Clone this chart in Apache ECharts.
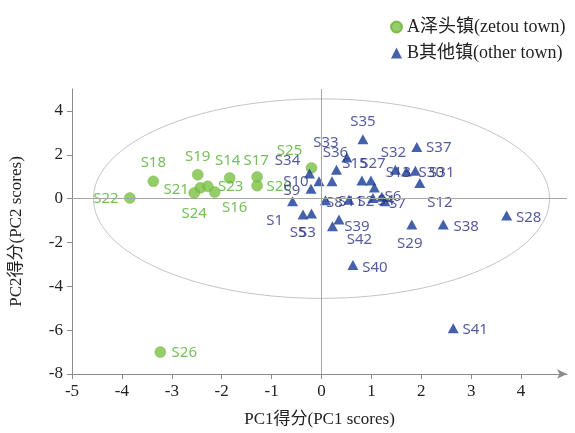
<!DOCTYPE html>
<html>
<head>
<meta charset="utf-8">
<script src="https://cdn.jsdelivr.net/npm/echarts@6/dist/echarts.min.js"></script>
<style>
  html, body { margin: 0; padding: 0; background: #ffffff; }
  #chart { width: 575px; height: 433px; }
</style>
</head>
<body>
<div id="chart"></div>
<script>
// PCA scores of the sampled sites, split by town group.
const groupNames = ['A泽头镇(zetou town)', 'B其他镇(other town)'];

// Group A: Zetou town samples
const townANames = ['S14', 'S16', 'S17', 'S18', 'S19', 'S20', 'S21', 'S22', 'S23', 'S24', 'S25', 'S26'];
const townAPc1   = [-1.84, -2.14, -1.29, -3.37, -2.48, -1.29, -2.43, -3.84, -2.28, -2.55, -0.20, -3.23];
const townAPc2   = [ 0.94,  0.30,  0.99,  0.79,  1.09,  0.59,  0.49,  0.03,  0.56,  0.26,  1.40, -7.00];

// Group B: samples from other towns
const townBNames = ['S1', 'S2', 'S3', 'S4', 'S5', 'S6', 'S7', 'S8', 'S9', 'S10', 'S11', 'S12', 'S13', 'S15',
                    'S27', 'S28', 'S29', 'S30', 'S31', 'S32', 'S33', 'S34', 'S35', 'S36', 'S37', 'S38', 'S39',
                    'S40', 'S41', 'S42'];
const townBPc1   = [-0.58, 1.03, -0.20, 1.27, -0.37, 1.21, 1.06, 0.08, -0.21, -0.05, 0.55, 0.21, 1.70, 0.81,
                     0.99, 3.71, 1.81, 1.88, 1.97, 1.48, 0.51, -0.24, 0.83, 0.30, 1.91, 2.44, 0.35,
                     0.63, 2.64, 0.22];
const townBPc2   = [-0.12, 0.03, -0.68, -0.12, -0.73, 0.08, 0.51, -0.08, 0.45, 0.79, -0.05, 0.79, 1.24, 0.83,
                     0.83, -0.77, -1.18, 1.27, 0.71, 1.32, 1.88, 1.14, 2.71, 1.32, 2.35, -1.18, -0.95,
                    -3.03, -5.91, -1.26];

// Axis ticks
const pc1Ticks = [-5, -4, -3, -2, -1, 0, 1, 2, 3, 4];
const pc2Ticks = [-8, -6, -4, -2, 0, 2, 4];

// Confidence ellipse (centre and semi-axes in score units)
const ellipseCenter = [0.0, 0.0];
const ellipseRadii = [4.57, 4.55];

// Label placement (pixel offsets from each marker, keeps labels readable)
const labelOffsetA = {
  S14: [-2, -17], S16: [20, 16], S17: [-1, -16], S18: [0, -19], S19: [0, -18], S20: [22, 1],
  S21: [-24, 2], S22: [-24, 1], S23: [23, 0], S24: [0, 21], S25: [-22, -17], S26: [24, 1]
};
const labelOffsetB = {
  S1: [-18, 19], S2: [-7, 4], S3: [-4, 19], S4: [1, -1], S5: [-5, 18], S6: [11, 0], S7: [23, 16],
  S8: [9, 2], S9: [-19, 2], S10: [-23, 0], S11: [2, 2], S12: [108, 21], S13: [-8, 1], S15: [-7, -17],
  S27: [2, -17], S28: [22, 2], S29: [-2, 19], S30: [16, 2], S31: [22, -10], S32: [-2, -17],
  S33: [-21, -15], S34: [-22, -13], S35: [0, -17], S36: [-1, -17], S37: [22, 1], S38: [23, 2],
  S39: [18, 7], S40: [22, 3], S41: [22, 2], S42: [27, 13]
};

const GREEN = '#7bc144';
const GREEN_TEXT = '#52b031';
const BLUE = '#173a96';
const BLUE_TEXT = '#2a3285';
const SERIF = '"Liberation Serif", "Noto Sans CJK SC", serif';
const SANS = '"Noto Sans", sans-serif';

function buildPoints(names, xs, ys, offsets) {
  return names.map((n, i) => ({
    name: n,
    value: [xs[i], ys[i]],
    label: { offset: offsets[n] || [0, 0] }
  }));
}

const chart = echarts.init(document.getElementById('chart'), null, { renderer: 'canvas' });

const axisCommon = {
  type: 'value',
  nameLocation: 'middle',
  nameTextStyle: { fontFamily: SERIF, fontSize: 17, color: '#222' },
  axisLine: { show: true, onZero: false, lineStyle: { color: '#8c8c8c', width: 1 } },
  axisTick: { show: true, inside: false, length: 5, lineStyle: { color: '#8c8c8c' } },
  axisLabel: { fontFamily: SERIF, fontSize: 17, color: '#222' },
  splitLine: { show: false }
};

chart.setOption({
  animation: false,
  backgroundColor: '#ffffff',
  grid: { left: 72, right: 8, top: 89, bottom: 58, containLabel: false },
  legend: {
    orient: 'vertical',
    left: 385,
    top: 13,
    itemWidth: 11,
    itemHeight: 11,
    itemGap: 8,
    textStyle: { fontFamily: SERIF, fontSize: 18, color: '#222' },
    data: [
      { name: groupNames[0], icon: 'circle' },
      { name: groupNames[1], icon: 'triangle' }
    ]
  },
  xAxis: Object.assign({}, axisCommon, {
    min: -5, max: 4.92, interval: 1,
    name: 'PC1得分(PC1 scores)',
    nameGap: 37,
    axisLine: Object.assign({}, axisCommon.axisLine, { symbol: ['none', 'arrow'], symbolSize: [7, 10] }),
    axisTick: Object.assign({}, axisCommon.axisTick, { customValues: pc1Ticks }),
    axisLabel: Object.assign({}, axisCommon.axisLabel, { customValues: pc1Ticks, margin: 9 })
  }),
  yAxis: Object.assign({}, axisCommon, {
    min: -8, max: 5, interval: 2,
    name: 'PC2得分(PC2 scores)',
    nameGap: 47,
    axisTick: Object.assign({}, axisCommon.axisTick, { customValues: pc2Ticks }),
    axisLabel: Object.assign({}, axisCommon.axisLabel, { customValues: pc2Ticks, margin: 9 })
  }),
  series: [
    {
      // confidence ellipse outline
      type: 'custom',
      silent: true,
      z: 1,
      data: [[ellipseCenter[0], ellipseCenter[1]]],
      renderItem: function (params, api) {
        const pts = [];
        const steps = 180;
        for (let k = 0; k <= steps; k++) {
          const t = (k / steps) * Math.PI * 2;
          pts.push(api.coord([
            ellipseCenter[0] + ellipseRadii[0] * Math.cos(t),
            ellipseCenter[1] + ellipseRadii[1] * Math.sin(t)
          ]));
        }
        return {
          type: 'polyline',
          shape: { points: pts },
          style: { fill: null, stroke: '#c4c4c8', lineWidth: 1 }
        };
      }
    },
    {
      name: groupNames[0],
      type: 'scatter',
      symbol: 'circle',
      symbolSize: 11,
      z: 3,
      itemStyle: { color: GREEN, borderColor: '#6bb236', borderWidth: 0.5 },
      label: {
        show: true, formatter: '{b}', position: 'inside',
        align: 'center', verticalAlign: 'middle',
        color: GREEN_TEXT, fontFamily: SANS, fontSize: 15
      },
      markLine: {
        silent: true,
        symbol: ['none', 'none'],
        label: { show: false },
        lineStyle: { color: '#a6a6a6', width: 1, type: 'solid' },
        data: [{ xAxis: 0 }, { yAxis: 0 }]
      },
      data: buildPoints(townANames, townAPc1, townAPc2, labelOffsetA)
    },
    {
      name: groupNames[1],
      type: 'scatter',
      symbol: 'triangle',
      symbolSize: [11, 10],
      z: 4,
      itemStyle: { color: BLUE },
      label: {
        show: true, formatter: '{b}', position: 'inside',
        align: 'center', verticalAlign: 'middle',
        color: BLUE_TEXT, fontFamily: SANS, fontSize: 15
      },
      data: buildPoints(townBNames, townBPc1, townBPc2, labelOffsetB)
    }
  ]
});
</script>
</body>
</html>
